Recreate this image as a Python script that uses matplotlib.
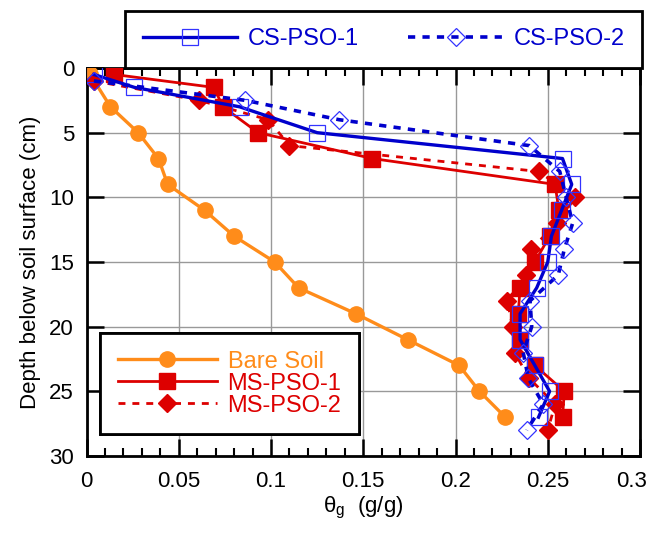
import matplotlib
matplotlib.use("Agg")
import matplotlib.pyplot as plt
import matplotlib.transforms as mtransforms
from matplotlib.ticker import MultipleLocator, FormatStrFormatter

plt.rcParams['font.family'] = ['Liberation Sans', 'DejaVu Sans']
plt.rcParams['mathtext.fontset'] = 'custom'
plt.rcParams['mathtext.rm'] = 'Liberation Sans'
plt.rcParams['mathtext.it'] = 'Liberation Sans'

# ---- data ----
bare_depth = [0.5, 3, 5, 7, 9, 11, 13, 15, 17, 19, 21, 23, 25, 27]
bare_theta = [0.002, 0.013, 0.028, 0.039, 0.044, 0.064, 0.080, 0.102, 0.115,
              0.146, 0.174, 0.202, 0.213, 0.227]

ms1_depth = [0.5, 1.5, 3, 5, 7, 9, 11, 13, 15, 17, 19, 21, 23, 25, 27]
ms1_theta = [0.015, 0.069, 0.074, 0.093, 0.155, 0.254, 0.256, 0.251, 0.243,
             0.235, 0.234, 0.235, 0.243, 0.259, 0.258]

ms2_depth = [1, 2.5, 4, 6, 8, 10, 12, 14, 16, 18, 20, 22, 24, 26, 28]
ms2_theta = [0.004, 0.061, 0.0985, 0.110, 0.245, 0.265, 0.255, 0.241, 0.238,
             0.228, 0.231, 0.232, 0.240, 0.254, 0.250]

cs1_depth = [0.5, 1.5, 3, 5, 7, 9, 11, 13, 15, 17, 19, 21, 23, 25, 27]
cs1_theta = [0.004, 0.026, 0.083, 0.125, 0.258, 0.263, 0.2575, 0.252, 0.250,
             0.244, 0.235, 0.235, 0.243, 0.251, 0.245]

cs2_depth = [1, 2.5, 4, 6, 8, 10, 12, 14, 16, 18, 20, 22, 24, 26, 28]
cs2_theta = [0.004, 0.086, 0.137, 0.240, 0.2565, 0.260, 0.2635, 0.259, 0.2557,
             0.2404, 0.2413, 0.2367, 0.2395, 0.2476, 0.2386]

orange = '#FF8C1A'
red = '#DD0000'
blue = '#0000CC'

fig = plt.figure(figsize=(6.52, 5.40), dpi=100)
ax = fig.add_axes([86.5 / 652, 1 - 456 / 540, (640 - 86.5) / 652, (456 - 68) / 540])

ax.grid(True, which='major', color='#999999', linewidth=1.0)
ax.set_axisbelow(True)

l_bare, = ax.plot(bare_theta, bare_depth, '-o', color=orange, lw=2.4, ms=11,
                  label='Bare Soil', zorder=3)
l_ms1, = ax.plot(ms1_theta, ms1_depth, '-s', color=red, lw=2.0, ms=11,
                 label='MS-PSO-1', zorder=3)
l_ms2, = ax.plot(ms2_theta, ms2_depth, '--D', color=red, lw=2.0, ms=9,
                 dashes=(2.5, 2.5), label='MS-PSO-2', zorder=3)
l_cs1, = ax.plot(cs1_theta, cs1_depth, '-s', color=blue, lw=2.4, ms=11.5,
                 mfc='none', mec='#3333FF', mew=0.9, label='CS-PSO-1', zorder=4)
l_cs2, = ax.plot(cs2_theta, cs2_depth, '--D', color=blue, lw=2.6, ms=9.5,
                 mfc='none', mec='#3333FF', mew=0.9, dashes=(2.0, 2.0),
                 label='CS-PSO-2', zorder=4)

ax.set_xlim(0, 0.3)
ax.set_ylim(30, 0)
ax.xaxis.set_major_locator(MultipleLocator(0.05))
ax.xaxis.set_minor_locator(MultipleLocator(0.01))
ax.xaxis.set_major_formatter(FormatStrFormatter('%g'))
ax.yaxis.set_major_locator(MultipleLocator(5))
ax.tick_params(which='major', direction='in', length=12, width=1.8,
               top=True, right=True, labelsize=16)
ax.tick_params(axis='x', which='major', pad=11)
ax.tick_params(axis='y', which='major', pad=9)
ax.tick_params(which='minor', direction='in', length=6, width=1.5,
               top=True, right=False)
for s in ax.spines.values():
    s.set_linewidth(2.0)

ax.set_ylabel('Depth below soil surface (cm)', fontsize=16, labelpad=6)
ax.set_xlabel(r'$\mathrm{\theta}_{\mathrm{g}}$  (g/g)', fontsize=16, labelpad=2)

fig.canvas.draw()
for lab in ax.get_xticklabels():
    if lab.get_text() == '0.3':
        lab.set_transform(lab.get_transform() +
                          mtransforms.ScaledTranslation(-8 / 100, 0, fig.dpi_scale_trans))

leg1 = ax.legend(handles=[l_bare, l_ms1, l_ms2], loc='upper left',
                 bbox_to_anchor=(0.0244, 0.317), borderaxespad=0,
                 fontsize=17, frameon=True, fancybox=False, framealpha=1,
                 edgecolor='black', handlelength=4.2, handletextpad=0.45,
                 labelspacing=0.0, borderpad=0.75, numpoints=1)
leg1.get_frame().set_linewidth(2.0)
for t, c in zip(leg1.get_texts(), [orange, red, red]):
    t.set_color(c)
ax.add_artist(leg1)

leg2 = fig.legend(handles=[l_cs1, l_cs2], loc='lower left',
                  bbox_to_anchor=(125 / 652, 1 - 68 / 540), borderaxespad=0,
                  ncol=2, fontsize=17, frameon=True, fancybox=False,
                  framealpha=1, edgecolor='black', handlelength=4.0,
                  handletextpad=0.45, columnspacing=2.1, borderpad=0.75,
                  numpoints=1)
leg2.get_frame().set_linewidth(2.0)
for t in leg2.get_texts():
    t.set_color(blue)

fig.savefig('out.png', dpi=100)
